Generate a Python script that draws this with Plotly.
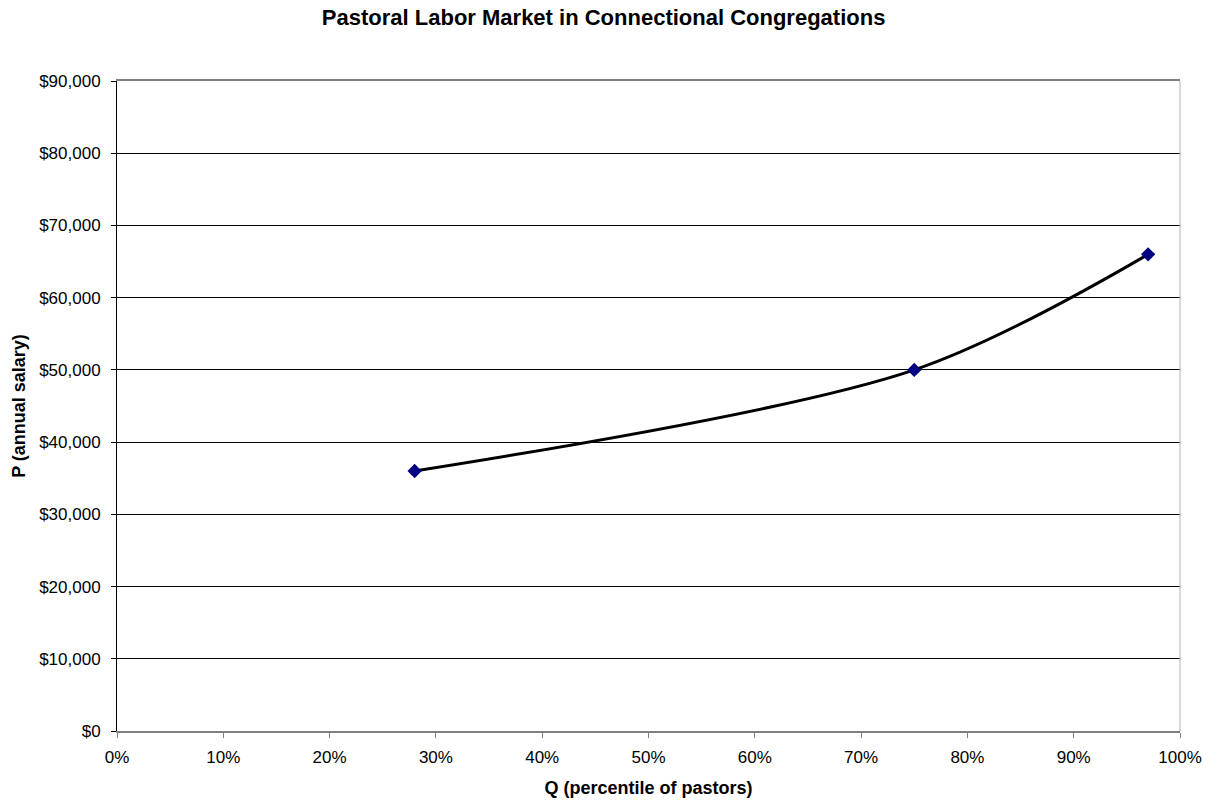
import plotly.graph_objects as go

q_percentile = [0.28, 0.75, 0.97]
salary = [36000, 50000, 66000]
x_ticks = [i / 10 for i in range(11)]
x_labels = [f"{i*10}%" for i in range(11)]
y_ticks = list(range(0, 90001, 10000))
y_labels = [f"${v:,}" for v in y_ticks]

fig = go.Figure()
fig.add_trace(go.Scatter(
    x=q_percentile, y=salary, mode="lines+markers",
    line=dict(color="black", width=3, shape="spline", smoothing=0.9),
    marker=dict(symbol="diamond", size=11, color="#000080"),
    showlegend=False, hoverinfo="x+y"))

font_family = "Liberation Sans, Arial, sans-serif"
fig.update_layout(
    width=1217, height=803,
    margin=dict(l=117, r=37, t=81, b=72),
    paper_bgcolor="white", plot_bgcolor="white",
    font=dict(family=font_family, size=17, color="black"),
    title=dict(text="<b>Pastoral Labor Market in Connectional Congregations</b>",
               x=0.496, xref="container", xanchor="center",
               y=1 - 17 / 803, yref="container", yanchor="middle",
               font=dict(size=22, family=font_family, color="black")),
    xaxis=dict(range=[0, 1], tickvals=x_ticks, ticktext=x_labels,
               showgrid=False, zeroline=False, automargin=False,
               showline=True, linecolor="#808080", linewidth=2, mirror=True,
               ticks="outside", ticklen=5, tickcolor="#808080", tickwidth=1,
               ticklabelstandoff=5,
               title=dict(text="<b>Q (percentile of pastors)</b>", standoff=15,
                          font=dict(size=18))),
    yaxis=dict(range=[0, 90000], tickvals=y_ticks, ticktext=y_labels,
               showgrid=True, gridcolor="black", gridwidth=1, zeroline=False,
               automargin=False,
               showline=True, linecolor="black", linewidth=1,
               ticks="outside", ticklen=5, tickcolor="black", tickwidth=1,
               ticklabelstandoff=7,
               title=dict(text="<b>P (annual salary)</b>", standoff=8,
                          font=dict(size=18))),
    shapes=[dict(type="line", xref="paper", yref="paper", x0=1, x1=1, y0=0, y1=1,
                 line=dict(color="#b0b0b0", width=1))],
)

fig.write_html("out.html")
